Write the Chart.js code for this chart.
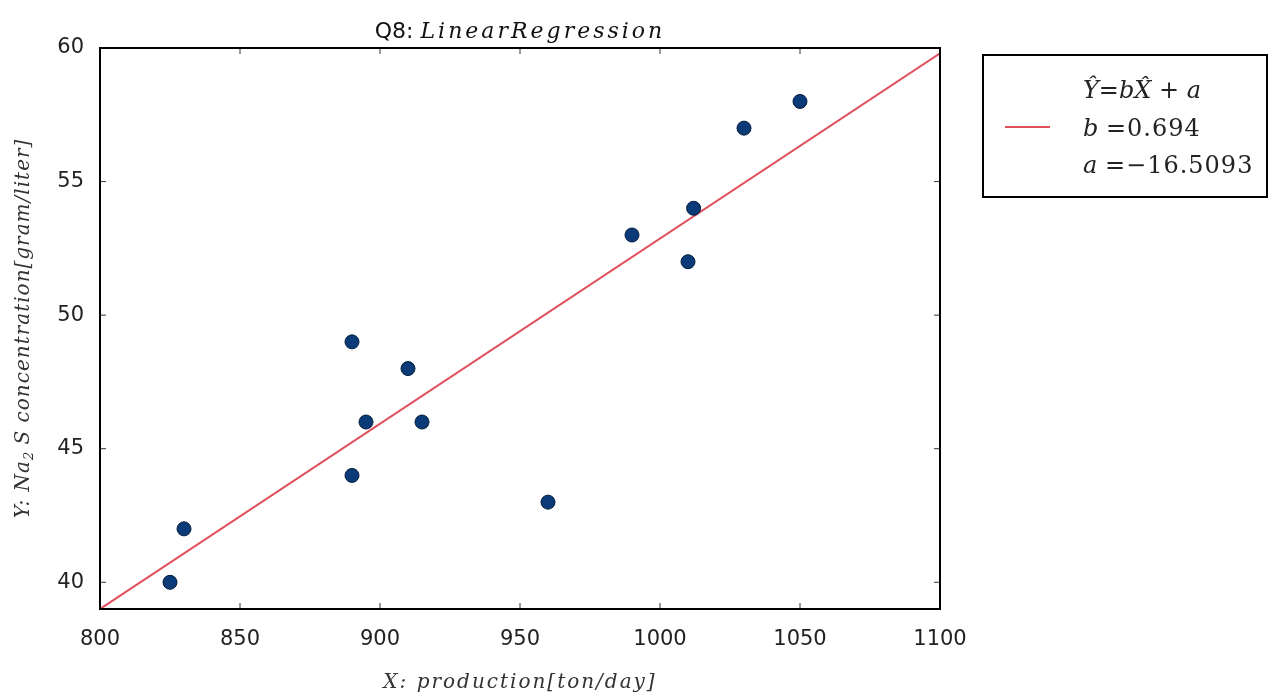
<!DOCTYPE html>
<html>
<head>
<meta charset="utf-8">
<title>Q8: Linear Regression</title>
<script src="https://cdn.jsdelivr.net/npm/chart.js@4"></script>
<style>
  body { margin: 0; background: #fff; }
  canvas { display: block; }
</style>
</head>
<body>
<canvas id="regChart" width="1273" height="700"></canvas>
<script>
// data
const prodX = [825, 830, 890, 890, 895, 910, 915, 960, 990, 1010, 1012, 1030, 1050];
const concY = [40, 42, 44, 49, 46, 48, 46, 43, 53, 52, 54, 57, 58];

// fitted line end points (as drawn)
const fitX = [800, 1100];
const fitY = [39.0, 59.8];

const xTicks = [800, 850, 900, 950, 1000, 1050, 1100];
const yTicks = [40, 45, 50, 55, 60];

const serif = '"DejaVu Serif", "Liberation Serif", serif';
const sans = '"DejaVu Sans", sans-serif';

// draw a row of [text, font, spacing, dy] runs starting at x
function drawRuns(ctx, runs, x, y, align) {
  let total = 0;
  runs.forEach(r => {
    ctx.font = r[1];
    ctx.letterSpacing = r[2] || '0px';
    total += ctx.measureText(r[0]).width;
  });
  let px = align === 'center' ? x - total / 2 : x;
  ctx.textAlign = 'left';
  runs.forEach(r => {
    ctx.font = r[1];
    ctx.letterSpacing = r[2] || '0px';
    ctx.fillText(r[0], px, y + (r[3] || 0));
    px += ctx.measureText(r[0]).width;
  });
  ctx.letterSpacing = '0px';
}

// frame, inward ticks, titles and the legend box
const decorations = {
  id: 'decorations',
  afterDraw(chart) {
    const ctx = chart.ctx;
    const area = chart.chartArea;
    const xs = chart.scales.x;
    const ys = chart.scales.y;
    ctx.save();

    // ticks on all four sides, pointing in
    ctx.strokeStyle = '#333';
    ctx.lineWidth = 1;
    ctx.beginPath();
    xTicks.forEach(v => {
      const px = xs.getPixelForValue(v);
      ctx.moveTo(px, area.bottom); ctx.lineTo(px, area.bottom - 6);
      ctx.moveTo(px, area.top); ctx.lineTo(px, area.top + 6);
    });
    yTicks.forEach(v => {
      const py = ys.getPixelForValue(v);
      ctx.moveTo(area.left, py); ctx.lineTo(area.left + 6, py);
      ctx.moveTo(area.right, py); ctx.lineTo(area.right - 6, py);
    });
    ctx.stroke();

    // frame
    ctx.strokeStyle = '#000';
    ctx.lineWidth = 2;
    ctx.strokeRect(area.left, area.top, area.right - area.left, area.bottom - area.top);

    const cx = (area.left + area.right) / 2;
    const it = 'italic 20px ' + serif;
    ctx.fillStyle = '#111';
    ctx.textBaseline = 'alphabetic';

    // title
    drawRuns(ctx, [['Q8: ', '22px ' + sans], ['LinearRegression', 'italic 22px ' + serif, '3px']], cx, 38, 'center');

    // x axis title
    ctx.fillStyle = '#333';
    drawRuns(ctx, [['X: production[ton/day]', it, '2px']], cx, 688, 'center');

    // y axis title, rotated
    ctx.save();
    ctx.translate(29, (area.top + area.bottom) / 2);
    ctx.rotate(-Math.PI / 2);
    drawRuns(ctx, [['Y: Na', it, '1px'], ['2', 'italic 13px ' + serif, '0px', 4],
                   [' S concentration[gram/liter]', it, '1px']], 0, 0, 'center');
    ctx.restore();

    // legend box
    ctx.strokeStyle = '#000';
    ctx.lineWidth = 2;
    ctx.strokeRect(983, 55, 284, 142);
    ctx.strokeStyle = '#e0505c';
    ctx.lineWidth = 2;
    ctx.beginPath();
    ctx.moveTo(1005, 127); ctx.lineTo(1050, 127);
    ctx.stroke();
    ctx.fillStyle = '#222';
    ctx.textBaseline = 'middle';
    const li = 'italic 24px ' + serif;
    const lu = '24px ' + serif;
    drawRuns(ctx, [['Ŷ', li], ['=', lu], ['bX̂', li], [' + ', lu], ['a', li]], 1083, 92);
    drawRuns(ctx, [['b ', li], ['=0.694', lu, '1px']], 1083, 130);
    drawRuns(ctx, [['a ', li], ['=−16.5093', lu, '1px']], 1083, 167);

    ctx.restore();
  }
};

const ctx = document.getElementById('regChart').getContext('2d');
const myChart = new Chart(ctx, {
  type: 'scatter',
  data: {
    datasets: [{
      label: 'data',
      data: prodX.map((x, i) => ({ x: x, y: concY[i] })),
      backgroundColor: '#0a3a78',
      borderColor: '#041c3a',
      borderWidth: 1,
      pointRadius: 7
    }, {
      type: 'line',
      label: 'fit',
      data: fitX.map((x, i) => ({ x: x, y: fitY[i] })),
      borderColor: '#e0505c',
      borderWidth: 2,
      pointRadius: 0,
      fill: false
    }]
  },
  options: {
    responsive: false,
    animation: false,
    layout: { padding: { top: 48, right: 333, left: 0, bottom: 0 } },
    plugins: {
      legend: { display: false },
      title: { display: false },
      tooltip: { enabled: false }
    },
    scales: {
      x: {
        type: 'linear',
        min: 800,
        max: 1100,
        afterBuildTicks: s => { s.ticks = xTicks.map(v => ({ value: v })); },
        afterFit: s => { s.height = 91; },
        grid: { display: false },
        border: { display: false },
        ticks: { font: { family: sans, size: 21 }, color: '#222', padding: 10, maxRotation: 0,
                 callback: v => String(v) }
      },
      y: {
        type: 'linear',
        min: 39,
        max: 60,
        afterBuildTicks: s => { s.ticks = yTicks.map(v => ({ value: v })); },
        afterFit: s => { s.width = 100; },
        grid: { display: false },
        border: { display: false },
        ticks: { font: { family: sans, size: 21 }, color: '#222', padding: 8,
                 callback: v => String(v) }
      }
    }
  },
  plugins: [decorations]
});
</script>
</body>
</html>
